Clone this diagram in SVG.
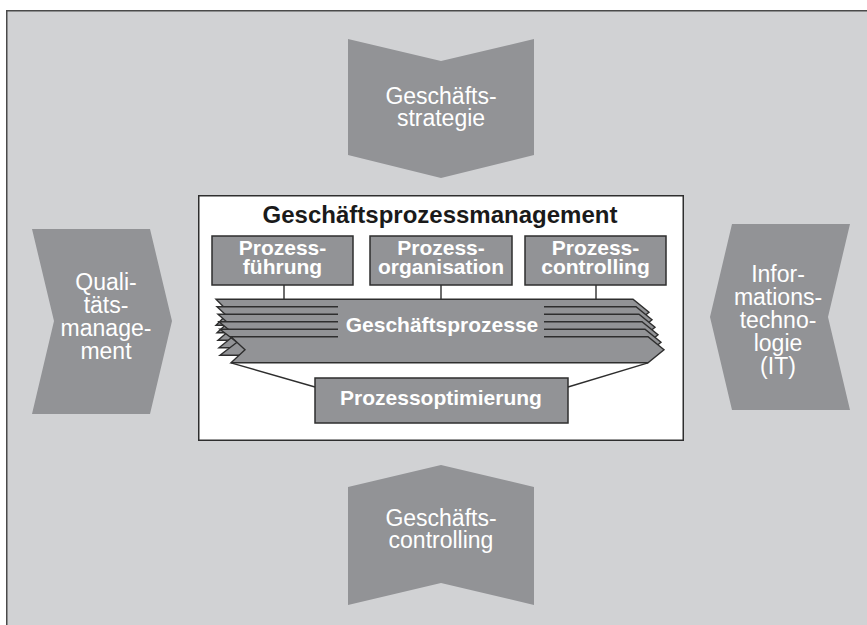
<svg xmlns="http://www.w3.org/2000/svg" width="867" height="625" viewBox="0 0 867 625">
  <defs>
    <style>
      .chev { fill: #929396; stroke: none; }
      .chev-text { font-family: "Liberation Sans", Arial, sans-serif; font-size: 23px; fill: #ffffff; text-anchor: middle; }
      .box { fill: #929396; stroke: #2e2e2e; stroke-width: 1.5; }
      .box-text { font-family: "Liberation Sans", Arial, sans-serif; font-size: 21px; font-weight: bold; fill: #ffffff; text-anchor: middle; }
      .sheet { fill: #929396; stroke: #2e2e2e; stroke-width: 1.4; stroke-linejoin: miter; }
      .link { stroke: #2e2e2e; stroke-width: 1.4; fill: none; }
    </style>
  </defs>

  <!-- page -->
  <rect x="0" y="0" width="867" height="625" fill="#ffffff"/>
  <rect x="6" y="10" width="861" height="615" fill="#d1d2d4"/>
  <path d="M6.75 625 V10.75 H867" fill="none" stroke="#4a4a4a" stroke-width="1.5"/>

  <!-- surrounding drivers -->
  <g id="geschaeftsstrategie">
    <polygon class="chev" points="348,39 441,61 534,39 534,155 441,178 348,155"/>
    <text class="chev-text" x="441" y="104">Geschäfts-</text>
    <text class="chev-text" x="441" y="126">strategie</text>
  </g>

  <g id="geschaeftscontrolling">
    <polygon class="chev" points="348,487 441,465 534,487 534,605 441,583 348,605"/>
    <text class="chev-text" x="441" y="526">Geschäfts-</text>
    <text class="chev-text" x="441" y="548">controlling</text>
  </g>

  <g id="qualitaetsmanagement">
    <polygon class="chev" points="32,229 150,229 172,321 150,414 32,414 54,321"/>
    <text class="chev-text" x="106" y="290">Quali-</text>
    <text class="chev-text" x="106" y="313">täts-</text>
    <text class="chev-text" x="106" y="336">manage-</text>
    <text class="chev-text" x="106" y="359">ment</text>
  </g>

  <g id="informationstechnologie">
    <polygon class="chev" points="732,224 850,224 828,317 850,410 732,410 710,317"/>
    <text class="chev-text" x="778" y="282">Infor-</text>
    <text class="chev-text" x="778" y="305">mations-</text>
    <text class="chev-text" x="778" y="328">techno-</text>
    <text class="chev-text" x="778" y="351">logie</text>
    <text class="chev-text" x="778" y="374">(IT)</text>
  </g>

  <!-- central management frame -->
  <g id="gpm">
    <rect x="198.75" y="195.75" width="484.5" height="244.5" fill="#ffffff" stroke="#2e2e2e" stroke-width="1.5"/>
    <text x="440" y="223" font-family="Liberation Sans, Arial, sans-serif" font-size="24" font-weight="bold" fill="#1a1a1a" text-anchor="middle">Geschäftsprozessmanagement</text>
  </g>

  <!-- connectors -->
  <g id="connectors">
    <line class="link" x1="284" y1="285" x2="284" y2="299.5"/>
    <line class="link" x1="441" y1="285" x2="441" y2="299.5"/>
    <line class="link" x1="596" y1="285" x2="596" y2="299.5"/>
    <line class="link" x1="231" y1="362.8" x2="315" y2="387"/>
    <line class="link" x1="648" y1="362.8" x2="568" y2="387"/>
  </g>

  <g id="prozessfuehrung">
    <rect class="box" x="212" y="236" width="141" height="49"/>
    <text class="box-text" x="282.5" y="254.5">Prozess-</text>
    <text class="box-text" x="282.5" y="273.5">führung</text>
  </g>

  <g id="prozessorganisation">
    <rect class="box" x="370" y="236" width="142" height="49"/>
    <text class="box-text" x="441" y="254.5">Prozess-</text>
    <text class="box-text" x="441" y="273.5">organisation</text>
  </g>

  <g id="prozesscontrolling">
    <rect class="box" x="525" y="236" width="141" height="49"/>
    <text class="box-text" x="595.5" y="254.5">Prozess-</text>
    <text class="box-text" x="595.5" y="273.5">controlling</text>
  </g>

  <!-- stacked process sheets, back to front -->
  <g id="geschaeftsprozesse">
    <polygon class="sheet" points="216,299.3 633,299.3 649,312.3 633,325.3 216,325.3 229,312.3"/>
    <polygon class="sheet" points="217,306.8 636,306.8 652,319.8 636,332.8 217,332.8 231,319.8"/>
    <polygon class="sheet" points="218,314.3 639,314.3 655,327.3 639,340.3 218,340.3 233,327.3"/>
    <polygon class="sheet" points="219,321.8 642,321.8 658,334.8 642,347.8 219,347.8 235,334.8"/>
    <polygon class="sheet" points="220,329.3 645,329.3 661,342.3 645,355.3 220,355.3 237,342.3"/>
    <polygon class="sheet" points="231,336.8 648,336.8 664,349.8 648,362.8 231,362.8 245,349.8"/>
    <rect x="338" y="302.5" width="206" height="36.5" fill="#929396"/>
    <text class="box-text" x="442" y="331.5">Geschäftsprozesse</text>
  </g>

  <g id="prozessoptimierung">
    <rect class="box" x="315" y="378" width="253" height="45"/>
    <text class="box-text" x="441" y="405">Prozessoptimierung</text>
  </g>
</svg>
